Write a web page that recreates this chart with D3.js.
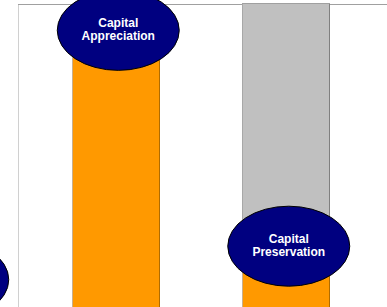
<!DOCTYPE html>
<html>
<head>
<meta charset="utf-8">
<script src="https://cdn.jsdelivr.net/npm/d3@7"></script>
<style>
  body { margin: 0; background: #fff; }
  svg { display: block; }
  .label { font-family: "Liberation Sans", Arial, sans-serif; font-weight: bold; font-size: 12px; fill: #fff; }
</style>
</head>
<body>
<svg id="chart" width="387" height="307"></svg>
<script>
// categories (first one sits off the left edge of the view, its label is not visible)
const categories = ["Income", "Capital Appreciation", "Capital Preservation"];
const orangeValues = [10, 83, 17];
const grayValues = [0, 0, 100];
const labelLines = [[], ["Capital", "Appreciation"], ["Capital", "Preservation"]];
const labelValues = [9, 91, 20];

const width = 387, height = 307;
const svg = d3.select("#chart");

const x = d3.scaleBand()
  .domain(categories)
  .range([-99, 330.5])
  .paddingInner(0.481)
  .paddingOuter(0);

const y = d3.scaleLinear().domain([0, 100]).range([height, 3]);

// frame
svg.append("line")
  .attr("x1", 18.5).attr("x2", 18.5).attr("y1", 4).attr("y2", height)
  .attr("stroke", "#d0d0d0");
svg.append("line")
  .attr("x1", 18).attr("x2", width).attr("y1", 4.5).attr("y2", 4.5)
  .attr("stroke", "#a0a0a0");

const bars = svg.append("g");

// gray totals
categories.forEach((c, i) => {
  if (!grayValues[i]) return;
  const x0 = Math.round(x(c)), bw = Math.round(x.bandwidth());
  bars.append("rect")
    .attr("x", x0).attr("y", y(grayValues[i]))
    .attr("width", bw).attr("height", height - y(grayValues[i]))
    .attr("fill", "#c0c0c0");
  bars.append("line")
    .attr("x1", x0 + 0.5).attr("x2", x0 + 0.5).attr("y1", y(grayValues[i])).attr("y2", height)
    .attr("stroke", "#a8a8a8");
  bars.append("line")
    .attr("x1", x0 + bw - 0.5).attr("x2", x0 + bw - 0.5).attr("y1", y(grayValues[i])).attr("y2", height)
    .attr("stroke", "#808080");
  bars.append("line")
    .attr("x1", x0).attr("x2", x0 + bw).attr("y1", y(grayValues[i]) + 0.5).attr("y2", y(grayValues[i]) + 0.5)
    .attr("stroke", "#a0a0a0");
});

// orange part
categories.forEach((c, i) => {
  const x0 = Math.round(x(c)), bw = Math.round(x.bandwidth());
  bars.append("rect")
    .attr("x", x0).attr("y", y(orangeValues[i]))
    .attr("width", bw).attr("height", height - y(orangeValues[i]))
    .attr("fill", "#ff9900");
  bars.append("line")
    .attr("x1", x0 + 0.5).attr("x2", x0 + 0.5).attr("y1", y(orangeValues[i])).attr("y2", height)
    .attr("stroke", "#c8b090");
  bars.append("line")
    .attr("x1", x0 + bw - 0.5).attr("x2", x0 + bw - 0.5).attr("y1", y(orangeValues[i])).attr("y2", height)
    .attr("stroke", "#b06c00");
});

// ellipse labels
const labels = svg.append("g");
categories.forEach((c, i) => {
  const cx = x(c) + x.bandwidth() / 2 + 2.5;
  const cy = y(labelValues[i]);
  labels.append("ellipse")
    .attr("cx", cx).attr("cy", cy)
    .attr("rx", 61).attr("ry", 40)
    .attr("fill", "#000080")
    .attr("stroke", "#000")
    .attr("stroke-width", 1);
  const lines = labelLines[i];
  lines.forEach((t, k) => {
    labels.append("text")
      .attr("class", "label")
      .attr("x", cx).attr("y", cy - 3 + k * 13)
      .attr("text-anchor", "middle")
      .text(t);
  });
});
</script>
</body>
</html>
